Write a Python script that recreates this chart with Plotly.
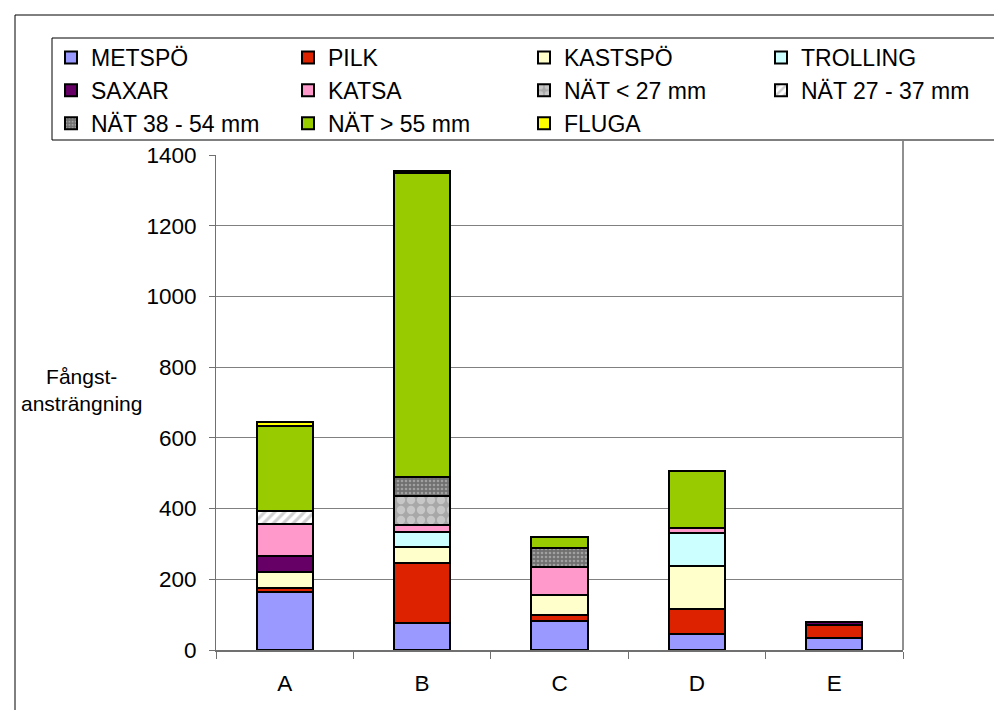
import plotly.graph_objects as go

categories = ["A", "B", "C", "D", "E"]

series_names = ["METSPÖ", "PILK", "KASTSPÖ", "TROLLING", "SAXAR", "KATSA",
                "NÄT < 27 mm", "NÄT 27 - 37 mm", "NÄT 38 - 54 mm", "NÄT > 55 mm", "FLUGA"]

metspo = [165, 75, 83, 45, 35]
pilk = [10, 170, 16, 71, 36]
kastspo = [47, 47, 57, 122, 0]
trolling = [0, 43, 0, 92, 0]
saxar = [43, 0, 0, 0, 8]
katsa = [92, 19, 80, 16, 0]
nat_lt27 = [0, 82, 0, 0, 0]
nat_27_37 = [35, 0, 0, 0, 0]
nat_38_54 = [0, 54, 52, 0, 0]
nat_gt55 = [241, 858, 31, 161, 0]
fluga = [11, 6, 0, 0, 0]

values = [metspo, pilk, kastspo, trolling, saxar, katsa,
          nat_lt27, nat_27_37, nat_38_54, nat_gt55, fluga]

colors = ["#9999FF", "#DD2200", "#FFFFCC", "#CCFFFF", "#660066", "#FF99CC",
          "#A8A8A8", "#FFFFFF", "#707070", "#99CC00", "#FFFF00"]

patterns = [None, None, None, None, None, None,
            dict(shape=".", fgcolor="#E6E6E6", bgcolor="#A8A8A8", size=10, solidity=0.55),
            dict(shape="/", fgcolor="#A0A0A0", bgcolor="#FFFFFF", size=7, solidity=0.45),
            dict(shape=".", fgcolor="#D0D0D0", bgcolor="#707070", size=4, solidity=0.35),
            None, None]

legend_ids = ["legend", "legend2", "legend3", "legend4",
              "legend", "legend2", "legend3", "legend4",
              "legend", "legend2", "legend3"]

FONT = "Liberation Sans, Arial, sans-serif"

fig = go.Figure()
for name, vals, col, pat, lg in zip(series_names, values, colors, patterns, legend_ids):
    marker = dict(color=col, line=dict(color="black", width=2))
    if pat is not None:
        marker["pattern"] = pat
    fig.add_trace(go.Bar(x=categories, y=vals, name=name, marker=marker, legend=lg))

W, H = 994, 710
L, R, T, B = 216, 903, 155, 650
pw, ph = R - L, B - T

def px_x(x):
    return (x - L) / pw

def px_y(y):
    return (B - y) / ph

leg_common = dict(orientation="v", bgcolor="rgba(0,0,0,0)", borderwidth=0,
                  font=dict(family=FONT, size=23, color="black"),
                  xanchor="left", yanchor="top", tracegroupgap=0, traceorder="normal")
col_x = [51, 288, 524, 761]
legends = {}
for i, key in enumerate(["legend", "legend2", "legend3", "legend4"]):
    legends[key] = dict(leg_common, x=px_x(col_x[i]), y=px_y(36))

shapes = [
    # outer chart border (top and left)
    dict(type="line", xref="paper", yref="paper", x0=px_x(15), x1=px_x(1000),
         y0=px_y(15), y1=px_y(15), line=dict(color="black", width=1)),
    dict(type="line", xref="paper", yref="paper", x0=px_x(15), x1=px_x(15),
         y0=px_y(15), y1=px_y(720), line=dict(color="black", width=1)),
    # legend box
    dict(type="rect", xref="paper", yref="paper", x0=px_x(52), x1=px_x(1000),
         y0=px_y(140), y1=px_y(38), line=dict(color="black", width=1),
         fillcolor="white", layer="below"),
    # right plot-area border
    dict(type="line", xref="paper", yref="paper", x0=1, x1=1,
         y0=0, y1=px_y(141), line=dict(color="#909090", width=2)),
]

fig.update_layout(
    width=W, height=H,
    margin=dict(l=L, r=W - R, t=T, b=H - B, autoexpand=False),
    barmode="stack", bargap=0.59,
    plot_bgcolor="white", paper_bgcolor="white",
    font=dict(family=FONT, size=22, color="black"),
    showlegend=True,
    shapes=shapes,
    annotations=[dict(text="Fångst-<br>ansträngning", xref="paper", yref="paper",
                      x=px_x(81), y=px_y(390), xanchor="center", yanchor="middle",
                      showarrow=False, font=dict(family=FONT, size=21, color="black"))],
    **legends,
)

fig.update_yaxes(range=[0, 1400], dtick=200, showgrid=True, gridcolor="#808080", gridwidth=1,
                 showline=True, linecolor="#707070", linewidth=1,
                 ticks="outside", ticklen=6, tickcolor="#707070", ticklabelstandoff=8,
                 tickfont=dict(family=FONT, size=22.5, color="black"), zeroline=False,
                 fixedrange=True)
fig.update_xaxes(showline=True, linecolor="#707070", linewidth=2,
                 ticks="outside", ticklen=7, tickcolor="#707070", tickson="boundaries",
                 ticklabelstandoff=12,
                 tickfont=dict(family=FONT, size=22.5, color="black"), showgrid=False)

fig.write_html("out.html", config={"displayModeBar": False},
               post_script="document.body.style.margin='0';")
